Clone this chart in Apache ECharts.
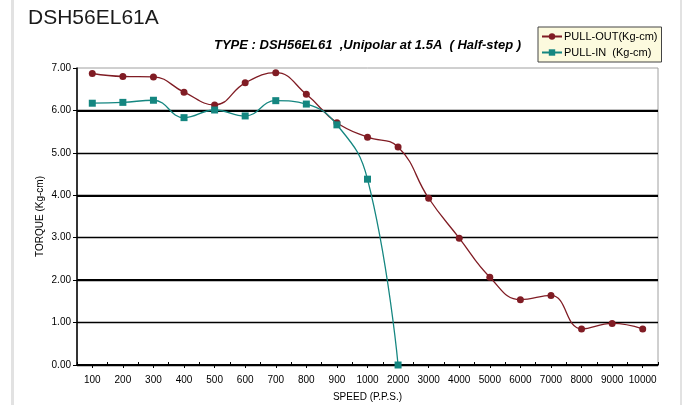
<!DOCTYPE html>
<html>
<head>
<meta charset="utf-8">
<script src="https://cdn.jsdelivr.net/npm/echarts@6/dist/echarts.min.js"></script>
<style>
html,body{margin:0;padding:0;background:#fff;}
#c{width:682px;height:405px;}
</style>
</head>
<body>
<div id="c"></div>
<script>
const categories = ['100','200','300','400','500','600','700','800','900','1000','2000','3000','4000','5000','6000','7000','8000','9000','10000'];
const pullOut = [6.87, 6.80, 6.79, 6.43, 6.13, 6.65, 6.89, 6.38, 5.71, 5.37, 5.14, 3.93, 2.99, 2.07, 1.54, 1.64, 0.85, 0.98, 0.85];
const pullIn = [6.17, 6.19, 6.24, 5.83, 6.01, 5.87, 6.23, 6.15, 5.66, 4.38, 0.00];
const yTicks = [0, 1, 2, 3, 4, 5, 6, 7];
const mainTitle = 'DSH56EL61A';
const subTitle = 'TYPE : DSH56EL61  ,Unipolar at 1.5A  ( Half-step )';
const seriesNames = ['PULL-OUT(Kg-cm)', 'PULL-IN  (Kg-cm)'];

const chart = echarts.init(document.getElementById('c'), null, {renderer: 'canvas'});
const FONT = '"Liberation Sans", Arial, sans-serif';
const gridColors = yTicks.map((v, i) => i === yTicks.length - 1 ? 'transparent' : '#000');
const thickColors = ['#000', '#000', '#000', '#000', 'transparent', 'transparent'];

chart.setOption({
  animation: false,
  backgroundColor: '#fff',
  textStyle: {fontFamily: FONT},
  graphic: [
    {type: 'rect', shape: {x: 11, y: 0, width: 3, height: 405}, style: {fill: '#e2e2e2'}, silent: true},
    {type: 'rect', shape: {x: 680, y: 0, width: 2, height: 405}, style: {fill: '#e2e2e2'}, silent: true},
    {type: 'text', left: 28, top: 8, style: {text: mainTitle, font: '21px ' + FONT, fill: '#1a1a1a'}},
    {type: 'text', left: 214, top: 39, style: {text: subTitle, font: 'italic bold 13px ' + FONT, fill: '#000'}}
  ],
  legend: {
    orient: 'vertical',
    left: 538, top: 27,
    backgroundColor: '#fcfade',
    borderColor: '#444',
    borderWidth: 1,
    borderRadius: 0,
    padding: [4, 4, 4, 3],
    itemGap: 5,
    itemWidth: 20,
    itemHeight: 8,
    textStyle: {fontSize: 11, color: '#000', fontFamily: FONT, padding: [0, 0, 0, -3]},
    data: seriesNames
  },
  grid: {
    left: 77, right: 24, top: 68, bottom: 40,
    outerBoundsMode: 'none',
    containLabel: false,
    show: true, borderColor: '#a0a0a0', borderWidth: 1, backgroundColor: 'transparent'
  },
  xAxis: [{
    type: 'category',
    data: categories,
    boundaryGap: true,
    name: 'SPEED (P.P.S.)',
    nameLocation: 'middle',
    nameGap: 27,
    nameMoveOverlap: false,
    nameTextStyle: {fontSize: 10, color: '#000', fontFamily: FONT},
    axisLine: {lineStyle: {color: '#000', width: 1.5}},
    axisTick: {show: true, alignWithLabel: true, length: 3, lineStyle: {color: '#000'}},
    axisLabel: {fontSize: 10, color: '#000', margin: 10, interval: 0, fontFamily: FONT},
    splitLine: {show: false}
  }, {
    type: 'category',
    data: categories,
    position: 'bottom',
    boundaryGap: true,
    axisLine: {show: false},
    axisTick: {show: true, inside: true, length: 3, interval: 0, lineStyle: {color: '#000'}},
    axisLabel: {show: false},
    splitLine: {show: false}
  }],
  yAxis: [{
    type: 'value',
    min: 0, max: 7, interval: 1,
    name: 'TORQUE (Kg-cm)',
    nameLocation: 'middle',
    nameGap: 32,
    nameMoveOverlap: false,
    nameTextStyle: {fontSize: 10, color: '#000', fontFamily: FONT},
    axisLine: {show: true, lineStyle: {color: '#000', width: 1.5}},
    axisTick: {show: true, length: 4, lineStyle: {color: '#000'}},
    axisLabel: {fontSize: 10, color: '#000', margin: 6, fontFamily: FONT, formatter: v => v.toFixed(2)},
    splitLine: {show: true, lineStyle: {color: gridColors, width: 1.3}}
  }, {
    type: 'value',
    min: 0, max: 7, interval: 2,
    position: 'left',
    axisLine: {show: false},
    axisTick: {show: false},
    axisLabel: {show: false},
    splitLine: {show: true, lineStyle: {color: thickColors, width: 2.2}}
  }],
  series: [{
    name: seriesNames[0],
    type: 'line',
    data: pullOut,
    smooth: 0.45,
    symbol: 'circle',
    symbolSize: 7,
    itemStyle: {color: '#801c24'},
    lineStyle: {color: '#801c24', width: 1.3},
    z: 3
  }, {
    name: seriesNames[1],
    type: 'line',
    data: pullIn,
    smooth: 0.45,
    symbol: 'rect',
    symbolSize: 7,
    itemStyle: {color: '#148680'},
    lineStyle: {color: '#148680', width: 1.3},
    z: 4
  }]
});
</script>
</body>
</html>
